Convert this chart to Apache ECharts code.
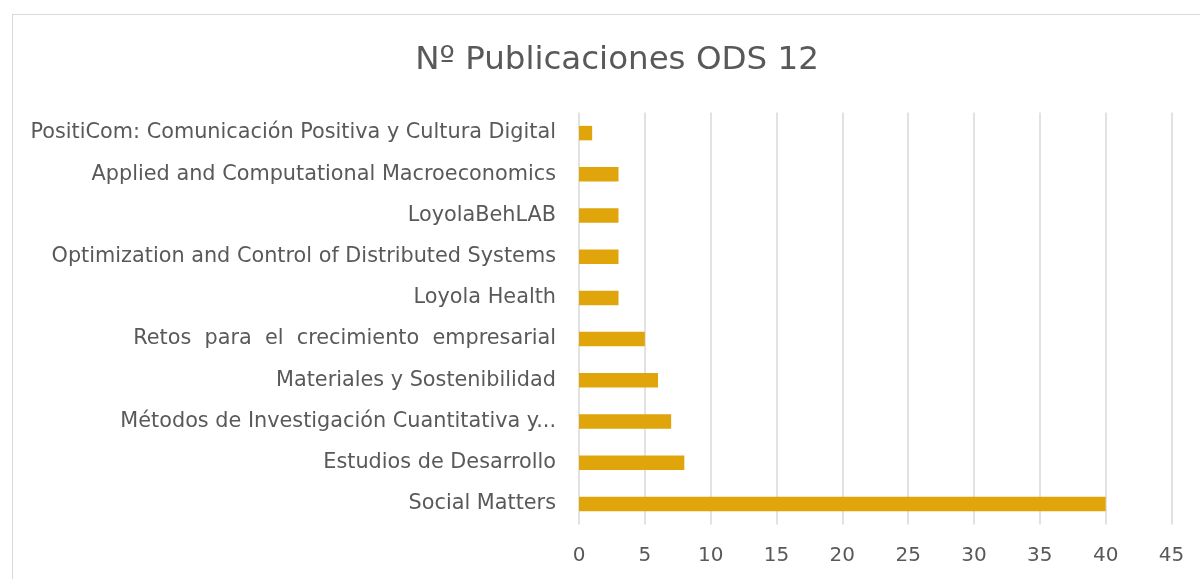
<!DOCTYPE html>
<html>
<head>
<meta charset="utf-8">
<script src="https://cdn.jsdelivr.net/npm/echarts@6/dist/echarts.min.js"></script>
<style>
  html, body { margin: 0; padding: 0; background: #fff; overflow: hidden; }
  #frame { position: absolute; left: 12px; top: 14px; width: 1300px; height: 700px; border: 1.5px solid #d9d9d9; box-sizing: border-box; }
  #chart { position: absolute; left: 0; top: 0; width: 1200px; height: 579px; }
</style>
</head>
<body>
<div id="frame"></div>
<div id="chart"></div>
<script>
// categories from bottom to top (as in the picture)
const groups = [
  'Social Matters',
  'Estudios de Desarrollo',
  'Métodos de Investigación Cuantitativa y...',
  'Materiales y Sostenibilidad',
  'Retos  para  el  crecimiento  empresarial',
  'Loyola Health',
  'Optimization and Control of Distributed Systems',
  'LoyolaBehLAB',
  'Applied and Computational Macroeconomics',
  'PositiCom: Comunicación Positiva y Cultura Digital'
]
const publications = [40, 8, 7, 6, 5, 3, 3, 3, 3, 1]

const chart = echarts.init(document.getElementById('chart'))
const font = '"DejaVu Sans", sans-serif'

chart.setOption({
  animation: false,
  backgroundColor: 'transparent',
  title: {
    text: 'Nº Publicaciones ODS 12',
    left: 612,
    top: 39,
    textAlign: 'center',
    textStyle: { color: '#595959', fontSize: 32.5, fontWeight: 'normal', fontFamily: font }
  },
  grid: { left: 579, right: 28.5, top: 112.5, bottom: 54.5, containLabel: false },
  xAxis: {
    type: 'value',
    min: 0,
    max: 45,
    interval: 5,
    axisLine: { show: false },
    axisTick: { show: false },
    axisLabel: { color: '#595959', fontSize: 20, fontFamily: font, margin: 21 },
    splitLine: { lineStyle: { color: '#d9d9d9', width: 1.5 } }
  },
  yAxis: {
    type: 'category',
    data: groups,
    axisLine: { show: false },
    axisTick: { show: false },
    axisLabel: { color: '#595959', fontSize: 20.8, fontFamily: font, margin: 23 }
  },
  series: [{
    type: 'bar',
    data: publications,
    barWidth: 14.5,
    itemStyle: { color: '#dfa50a' }
  }]
})
</script>
</body>
</html>
